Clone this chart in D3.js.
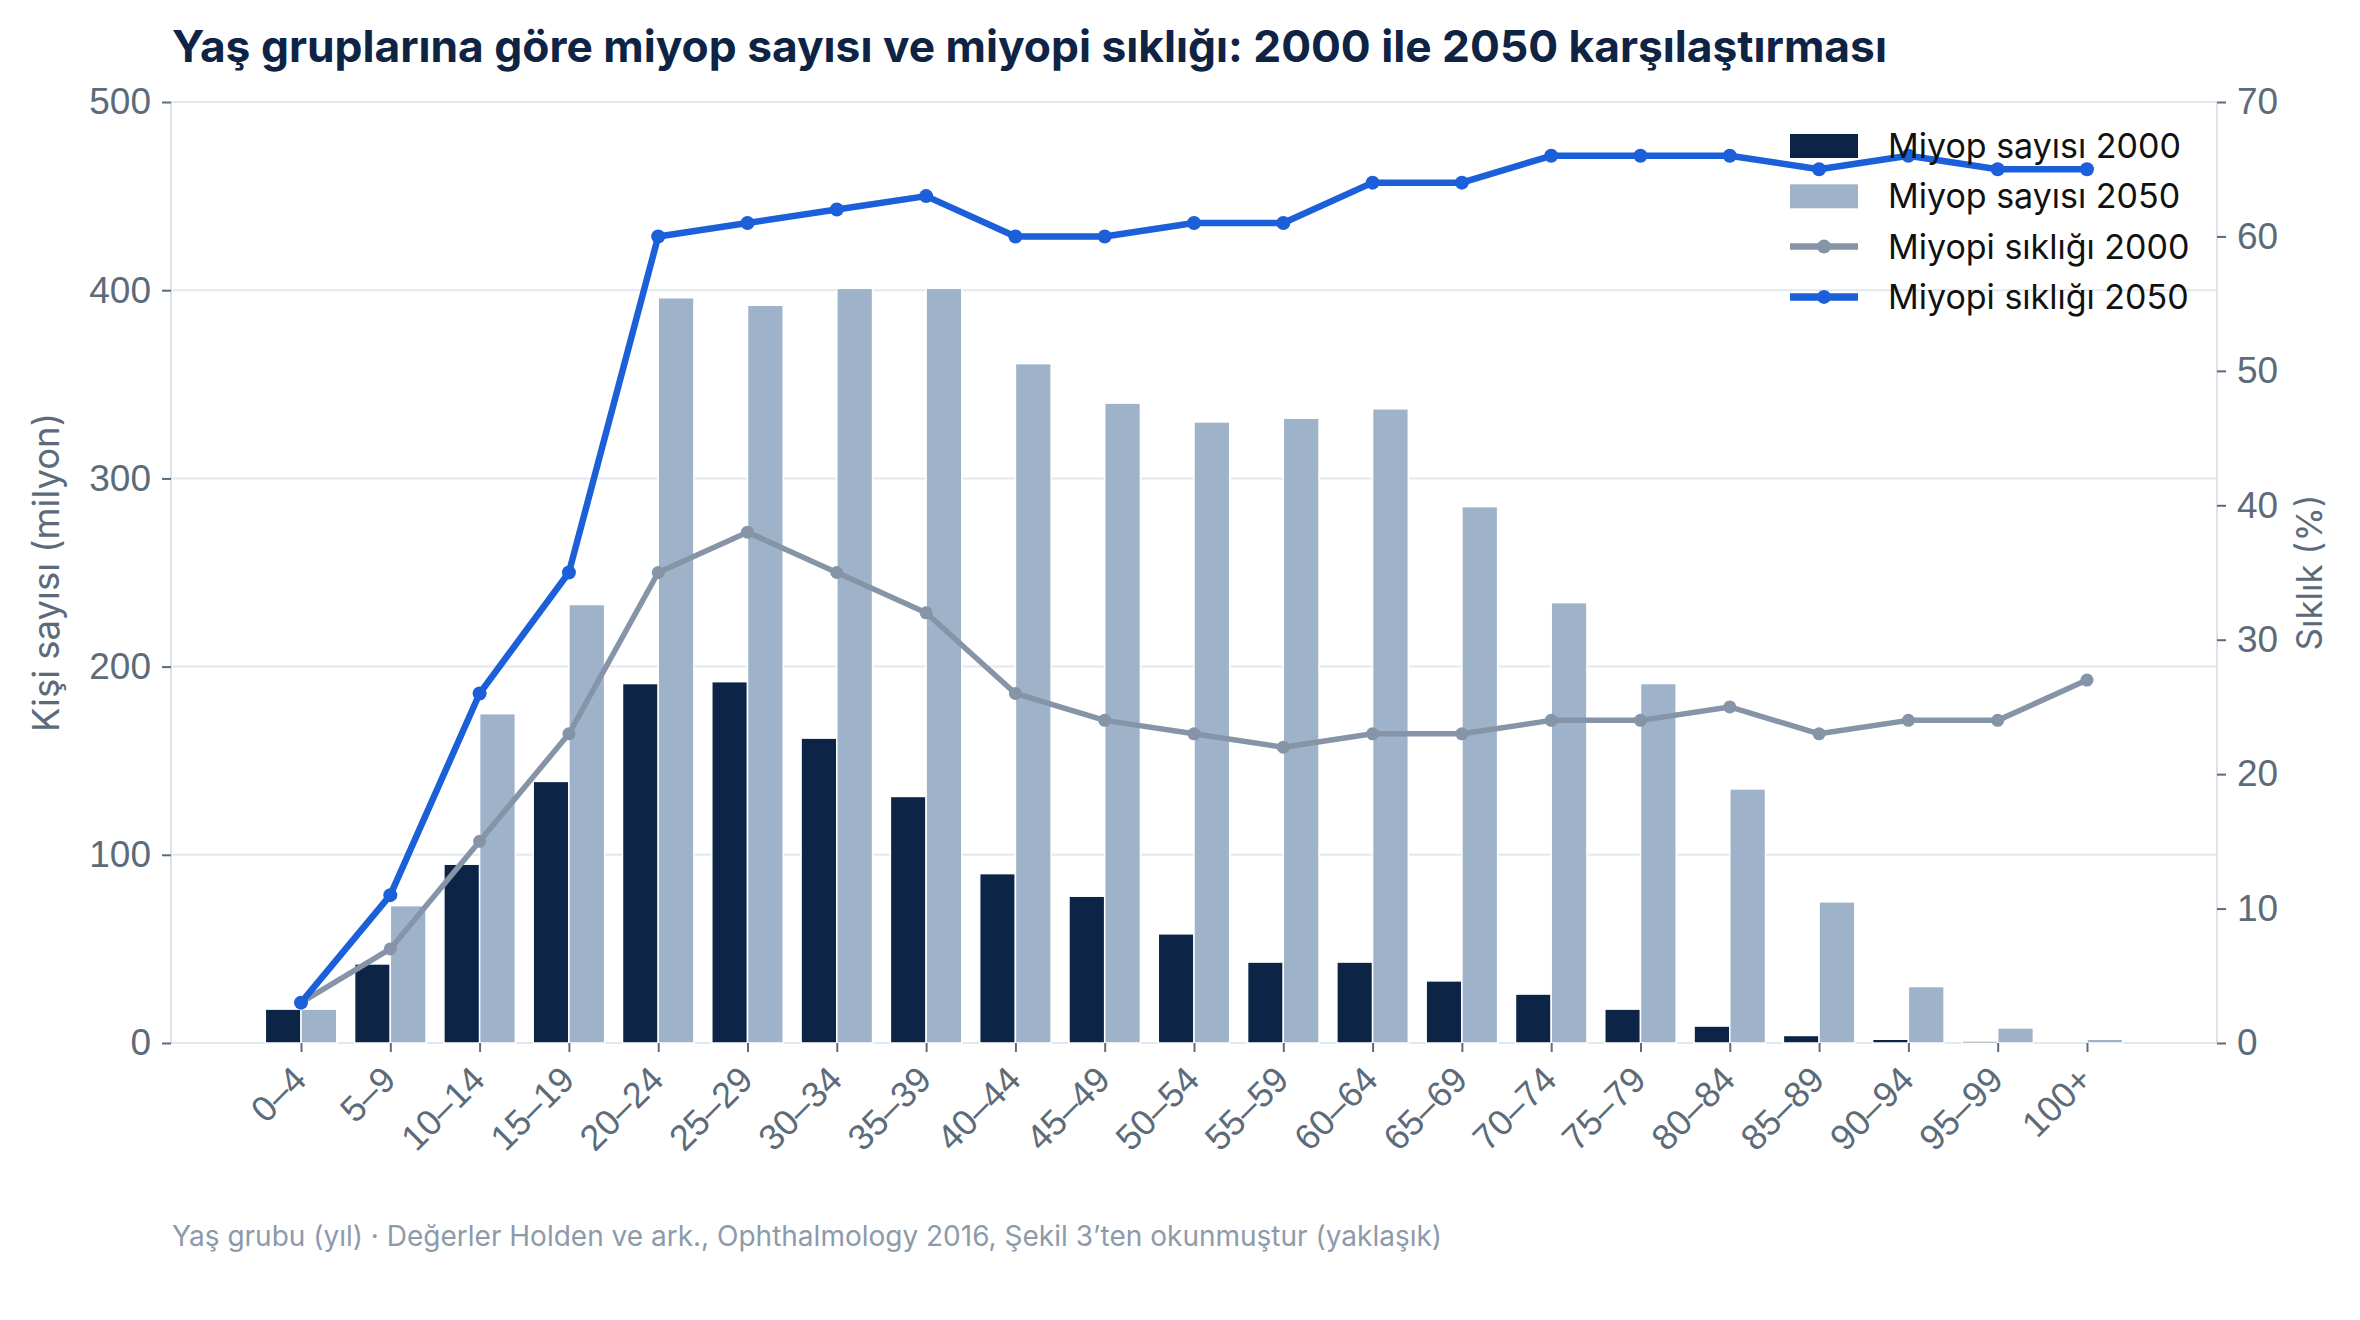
<!DOCTYPE html>
<html>
<head>
<meta charset="utf-8">
<script src="https://cdn.jsdelivr.net/npm/d3@7"></script>
<style>
  body { margin: 0; background: #fff; }
  svg { font-family: Inter, "Noto Sans", sans-serif; }
</style>
</head>
<body>
<svg width="2360" height="1320"></svg>
<script>
// age groups
var groups = ["0–4", "5–9", "10–14", "15–19", "20–24", "25–29", "30–34", "35–39", "40–44", "45–49",
  "50–54", "55–59", "60–64", "65–69", "70–74", "75–79", "80–84", "85–89", "90–94", "95–99", "100+"];

// myopes, millions
var count2000 = [18, 42, 95, 139, 191, 192, 162, 131, 90, 78, 58, 43, 43, 33, 26, 18, 9, 4, 2, 1, 0];
var count2050 = [18, 73, 175, 233, 396, 392, 401, 401, 361, 340, 330, 332, 337, 285, 234, 191, 135, 75, 30, 8, 2];

// prevalence, %
var prev2000 = [3, 7, 15, 23, 35, 38, 35, 32, 26, 24, 23, 22, 23, 23, 24, 24, 25, 23, 24, 24, 27];
var prev2050 = [3, 11, 26, 35, 60, 61, 62, 63, 60, 60, 61, 61, 64, 64, 66, 66, 66, 65, 66, 65, 65];

var leftTicks = [0, 100, 200, 300, 400, 500];
var rightTicks = [0, 10, 20, 30, 40, 50, 60, 70];

var svg = d3.select("svg"),
    plotL = 171, plotR = 2217, plotT = 102, plotB = 1043;

var navy = "#0c2446", steel = "#9eb2ca", grey = "#8694a7", blue = "#1b5fd9";
var tickColor = "#5c6b7a";

var x = d3.scalePoint()
    .domain(groups)
    .range([plotL, plotR])
    .padding(1.456);
var barW = x.step() * 0.4;

var y = d3.scaleLinear().domain([0, 500]).range([plotB, plotT]);
var y2 = d3.scaleLinear().domain([0, 70]).range([plotB, plotT]);

// grid
svg.append("g")
  .selectAll("line")
  .data(leftTicks)
  .enter().append("line")
  .attr("x1", plotL).attr("x2", plotR)
  .attr("y1", function(d) { return y(d); })
  .attr("y2", function(d) { return y(d); })
  .attr("stroke", "#e3e8ee")
  .attr("stroke-width", 2);

// spines
[plotL, plotR].forEach(function(px) {
  svg.append("line")
    .attr("x1", px).attr("x2", px)
    .attr("y1", plotT).attr("y2", plotB)
    .attr("stroke", "#dde3ea")
    .attr("stroke-width", 2);
});

// bars
var bars = svg.append("g");
bars.selectAll(".b2000")
  .data(count2000)
  .enter().append("rect")
  .attr("x", function(d, i) { return x(groups[i]) - barW; })
  .attr("y", function(d) { return y(d); })
  .attr("width", barW)
  .attr("height", function(d) { return plotB - y(d); })
  .attr("fill", navy)
  .attr("stroke", "#fff")
  .attr("stroke-width", 1.5);

bars.selectAll(".b2050")
  .data(count2050)
  .enter().append("rect")
  .attr("x", function(d, i) { return x(groups[i]); })
  .attr("y", function(d) { return y(d); })
  .attr("width", barW)
  .attr("height", function(d) { return plotB - y(d); })
  .attr("fill", steel)
  .attr("stroke", "#fff")
  .attr("stroke-width", 1.5);

// prevalence lines
var line = d3.line()
  .x(function(d, i) { return x(groups[i]); })
  .y(function(d) { return y2(d); });

function drawLine(values, color, width, r) {
  var g = svg.append("g");
  g.append("path")
    .datum(values)
    .attr("d", line)
    .attr("fill", "none")
    .attr("stroke", color)
    .attr("stroke-width", width)
    .attr("stroke-linejoin", "round");
  g.selectAll("circle")
    .data(values)
    .enter().append("circle")
    .attr("cx", function(d, i) { return x(groups[i]); })
    .attr("cy", function(d) { return y2(d); })
    .attr("r", r)
    .attr("fill", color);
}
drawLine(prev2000, grey, 5.5, 6.5);
drawLine(prev2050, blue, 6.5, 7);

// axes
function styleAxis(g) {
  g.select(".domain").remove();
  g.selectAll(".tick line").attr("stroke", tickColor).attr("stroke-width", 2);
  g.selectAll(".tick text").attr("fill", tickColor).style("font-size", "37px");
}

svg.append("g")
  .attr("transform", "translate(" + plotL + ",0)")
  .call(d3.axisLeft(y).tickValues(leftTicks).tickSize(9).tickPadding(11))
  .call(styleAxis);

svg.append("g")
  .attr("transform", "translate(" + plotR + ",0)")
  .call(d3.axisRight(y2).tickValues(rightTicks).tickSize(9).tickPadding(11))
  .call(styleAxis);

var xAxis = svg.append("g")
  .attr("transform", "translate(0," + plotB + ")")
  .call(d3.axisBottom(x).tickSize(9).tickPadding(8))
  .call(styleAxis);
xAxis.selectAll(".tick text")
  .style("font-size", "36px")
  .attr("text-anchor", "end")
  .attr("transform", "translate(-2,30) rotate(-45)")
  .attr("dy", "0.35em")
  .attr("y", 0);

// axis titles
svg.append("text")
  .attr("transform", "translate(59," + (plotT + plotB) / 2 + ") rotate(-90)")
  .attr("text-anchor", "middle")
  .attr("fill", tickColor)
  .style("font-size", "36.5px")
  .text("Kişi sayısı (milyon)");

svg.append("text")
  .attr("transform", "translate(2322," + (plotT + plotB) / 2 + ") rotate(-90)")
  .attr("text-anchor", "middle")
  .attr("fill", tickColor)
  .style("font-size", "35px")
  .text("Sıklık (%)");

// title
svg.append("text")
  .attr("x", 172).attr("y", 62)
  .attr("fill", "#0f2444")
  .style("font-size", "44.3px")
  .style("font-weight", 700)
  .text("Yaş gruplarına göre miyop sayısı ve miyopi sıklığı: 2000 ile 2050 karşılaştırması");

// footnote
svg.append("text")
  .attr("x", 172).attr("y", 1246)
  .attr("fill", "#8d9aab")
  .style("font-size", "28px")
  .text("Yaş grubu (yıl) · Değerler Holden ve ark., Ophthalmology 2016, Şekil 3’ten okunmuştur (yaklaşık)");

// legend
var legendItems = [
  { label: "Miyop sayısı 2000", type: "bar", color: navy },
  { label: "Miyop sayısı 2050", type: "bar", color: steel },
  { label: "Miyopi sıklığı 2000", type: "line", color: grey, w: 5.5 },
  { label: "Miyopi sıklığı 2050", type: "line", color: blue, w: 6.5 }
];
var legend = svg.append("g").attr("transform", "translate(1790,146)");
var item = legend.selectAll("g")
  .data(legendItems)
  .enter().append("g")
  .attr("transform", function(d, i) { return "translate(0," + i * 50.3 + ")"; });
item.filter(function(d) { return d.type === "bar"; })
  .append("rect")
  .attr("x", 0).attr("y", -12)
  .attr("width", 68).attr("height", 24)
  .attr("fill", function(d) { return d.color; });
var li = item.filter(function(d) { return d.type === "line"; });
li.append("line")
  .attr("x1", 0).attr("x2", 68)
  .attr("stroke", function(d) { return d.color; })
  .attr("stroke-width", function(d) { return d.w + 1; });
li.append("circle")
  .attr("cx", 34).attr("r", 7)
  .attr("fill", function(d) { return d.color; });
item.append("text")
  .attr("x", 98)
  .attr("dy", "0.35em")
  .attr("fill", "#111")
  .style("font-size", "34px")
  .text(function(d) { return d.label; });
</script>
</body>
</html>
